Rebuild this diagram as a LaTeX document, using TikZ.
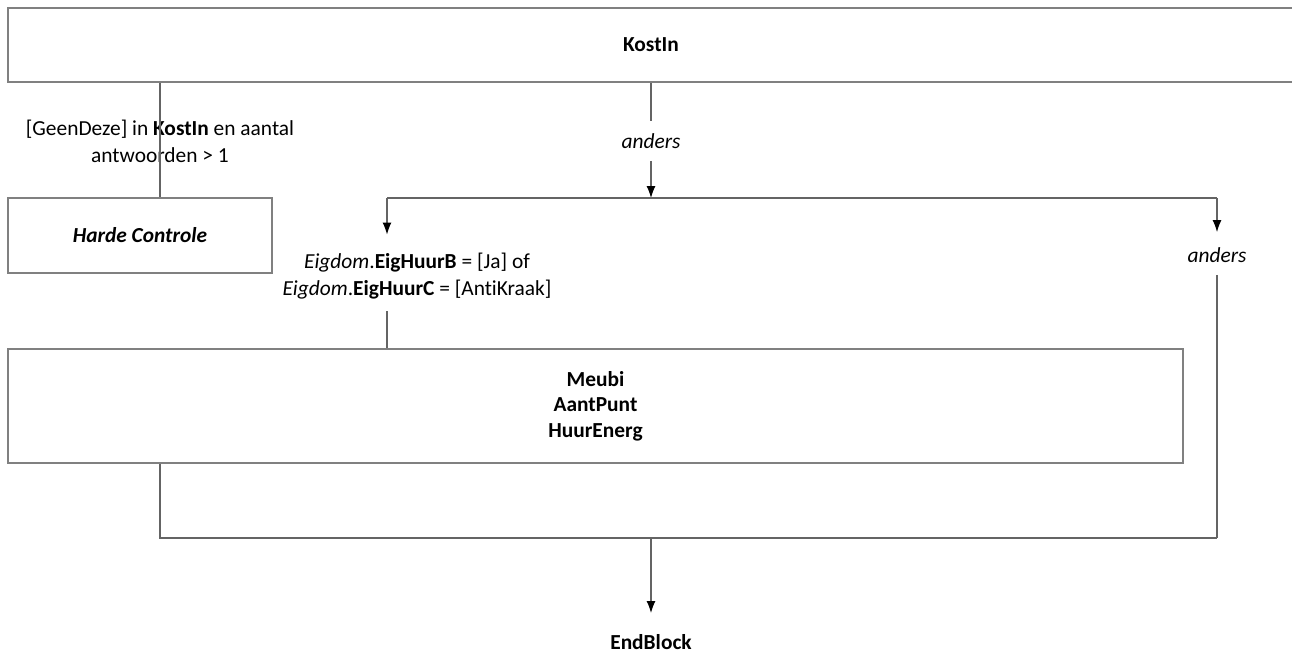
\documentclass[tikz,border=0pt]{standalone}
\usepackage{fontspec}
\setmainfont{Carlito}[Ligatures=NoCommon]
\usepackage{tikz}
\usetikzlibrary{arrows.meta}

\definecolor{boxgray}{RGB}{128,128,128}
\definecolor{linegray}{RGB}{100,100,100}

\tikzset{
  box/.style={draw=boxgray, line width=1pt, rectangle, align=center, inner sep=0pt},
  lbl/.style={align=center, inner sep=6pt},
  conn/.style={draw=linegray, line width=0.6pt},
  arr/.style={-{Latex[length=6pt,width=4.5pt,color=black]}}
}

\begin{document}
\begin{tikzpicture}[x=0.5pt, y=-0.5pt, font=\fontsize{10.7}{13.5}\selectfont]
\useasboundingbox (0,0) rectangle (1292,660);
\node[box, minimum width=643pt, minimum height=37pt] (kostin) at (651,45) {\textbf{KostIn}};
\node[box, minimum width=132pt, minimum height=37.5pt] (harde) at (140,235.5) {\textbf{\textit{Harde Controle}}};
\node[box, minimum width=587.5pt, minimum height=57pt, font=\fontsize{10.7}{12.75}\selectfont] (meubi) at (595.5,406) {\textbf{Meubi}\\\textbf{AantPunt}\\\textbf{HuurEnerg}};
\node[lbl] (geen) at (160,141) {[GeenDeze] in \textbf{KostIn} en aantal\\antwoorden > 1};
\node[lbl] (anders1) at (651,141) {\textit{anders}};
\node[lbl] (eig) at (417,276) {\textit{Eigdom}.\textbf{EigHuurB} = [Ja] of\\\textit{Eigdom}.\textbf{EigHuurC} = [AntiKraak]};
\node[lbl] (anders2) at (1217,255) {\textit{anders}};
\node[lbl] (end) at (651,642) {\textbf{EndBlock}};
\coordinate (split) at (651,198);
\coordinate (splitL) at (387,198);
\coordinate (splitR) at (1217,198);
\coordinate (join) at (651,538);
\coordinate (joinL) at (160,538);
\coordinate (joinR) at (1217,538);
\draw[conn] (geen |- kostin.south) -- (geen |- harde.north);
\draw[conn] (anders1 |- kostin.south) -- (anders1);
\draw[conn, arr] (anders1) -- (split);
\draw[conn] (splitL) -- (splitR);
\draw[conn, arr, shorten >=3pt] (splitL) -- (splitL |- eig.north);
\draw[conn] (splitL |- eig.south) -- (splitL |- meubi.north);
\draw[conn, arr, shorten >=1.5pt] (splitR) -- (anders2);
\draw[conn] (anders2) -- (joinR);
\draw[conn] (joinL |- meubi.south) -- (joinL) -- (joinR);
\draw[conn, arr, shorten >=4.5pt] (join) -- (end);
\end{tikzpicture}
\end{document}
